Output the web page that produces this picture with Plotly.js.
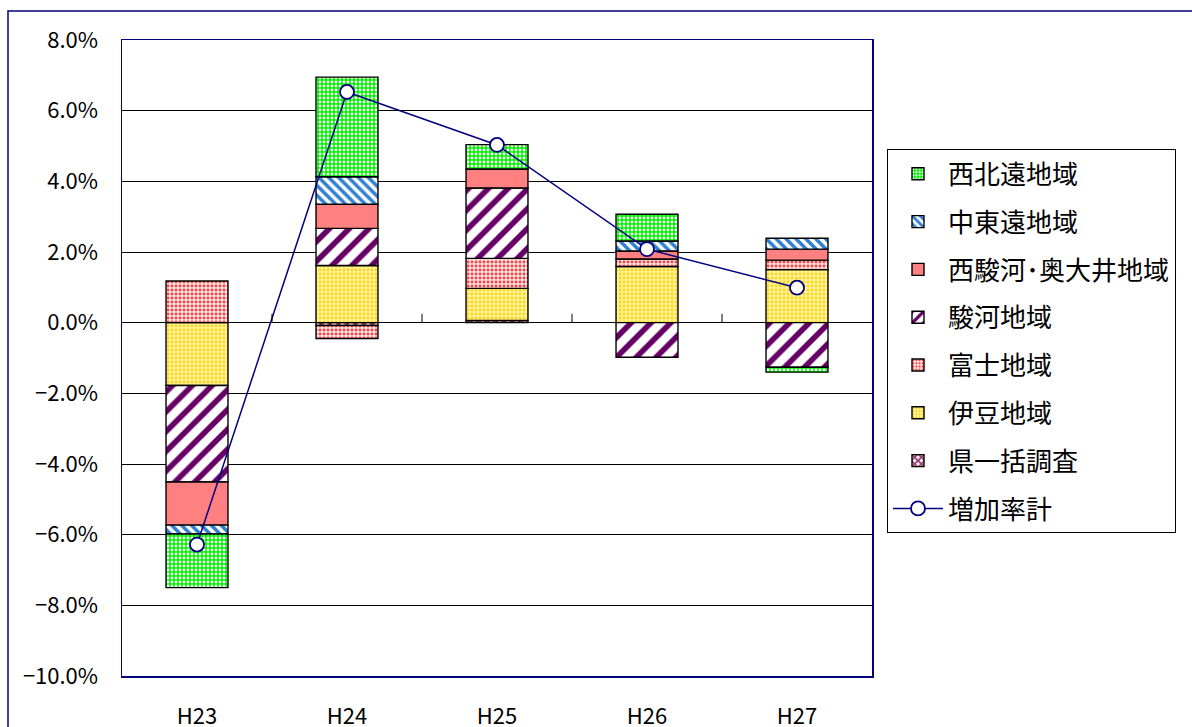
<!DOCTYPE html>
<html>
<head>
<meta charset="utf-8">
<script src="https://cdn.plot.ly/plotly-3.0.1.min.js"></script>
<style>html,body{margin:0;padding:0;background:#fff;}#chart{width:1192px;height:727px;}</style>
</head>
<body>
<div id="chart"></div>
<script>
const categories = ["H23", "H24", "H25", "H26", "H27"];
const kenIkkatsu = [0.00, -0.08, 0.06, 0.00, 0.00];
const izu = [-1.78, 1.62, 0.91, 1.59, 1.50];
const fuji = [1.18, -0.37, 0.85, 0.21, 0.27];
const suruga = [-2.73, 1.05, 1.99, -0.98, -1.26];
const nishiSuruga = [-1.22, 0.68, 0.54, 0.23, 0.31];
const chutoen = [-0.25, 0.78, 0.00, 0.28, 0.31];
const seihokuen = [-1.52, 2.82, 0.69, 0.76, -0.14];
const total = [-6.28, 6.53, 5.03, 2.08, 0.99];
const yTicks = [-10, -8, -6, -4, -2, 0, 2, 4, 6, 8];
const yTickText = yTicks.map(function (v) { return (v < 0 ? '\u2212' : '') + Math.abs(v).toFixed(1) + '%'; });

const jp = '"Noto Sans CJK JP", "Noto Sans", sans-serif';
const outline = {color: '#000000', width: 1.4};

function barTrace(name, y, color, pattern, rank) {
  const m = {color: color, line: outline};
  if (pattern) m.pattern = pattern;
  return {type: 'bar', name: name, x: categories, y: y, marker: m, legendgroup: name, legendrank: rank};
}

const traces = [
  {type: 'scatter', mode: 'lines+markers', name: '増加率計', x: categories, y: total,
   line: {color: '#000080', width: 1.5},
   marker: {symbol: 'circle', size: 14, color: '#ffffff', line: {color: '#000080', width: 1.8}},
   legendgroup: 'total', legendrank: 8},
  barTrace('県一括調査', kenIkkatsu, '#ffffff', {shape: 'x', fgcolor: '#993366', bgcolor: '#ffffff', size: 6, solidity: 0.6, fillmode: 'overlay', fgopacity: 1}, 7),
  barTrace('伊豆地域', izu, '#FFF080', {shape: '.', fgcolor: '#FFD21F', bgcolor: '#FFF59A', size: 4, solidity: 0.4, fillmode: 'overlay', fgopacity: 1}, 6),
  barTrace('富士地域', fuji, '#FFD0D0', {shape: '.', fgcolor: '#FF4040', bgcolor: '#FFE4E4', size: 4, solidity: 0.4, fillmode: 'overlay', fgopacity: 1}, 5),
  barTrace('駿河地域', suruga, '#ffffff', {shape: '/', fgcolor: '#660066', bgcolor: '#ffffff', size: 14, solidity: 0.4, fillmode: 'overlay', fgopacity: 1}, 4),
  barTrace('西駿河･奥大井地域', nishiSuruga, '#FF8080', null, 3),
  barTrace('中東遠地域', chutoen, '#ffffff', {shape: '\\', fgcolor: '#2F7FD0', bgcolor: '#ffffff', size: 7, solidity: 0.5, fillmode: 'overlay', fgopacity: 1}, 2),
  barTrace('西北遠地域', seihokuen, '#00FF00', {shape: '.', fgcolor: '#ffffff', bgcolor: '#00F000', size: 4, solidity: 0.4, fillmode: 'overlay', fgopacity: 1}, 1)
];

const tickShapes = [0.5, 1.5, 2.5, 3.5].map(function (xv) {
  return {type: 'line', xref: 'x', yref: 'y', x0: xv, x1: xv, y0: 0, y1: 0.25,
          line: {color: '#000000', width: 1}, layer: 'above'};
});

const layout = {
  width: 1192, height: 727,
  margin: {l: 122, r: 320, t: 40, b: 51, pad: 0},
  paper_bgcolor: '#ffffff', plot_bgcolor: '#ffffff',
  barmode: 'relative', bargap: 0.587,
  showlegend: true,
  legend: {
    x: 1.02, y: 0.828, xanchor: 'left', yanchor: 'top',
    traceorder: 'grouped', tracegroupgap: 11,
    font: {family: jp, size: 26, color: '#000000'},
    bordercolor: '#000000', borderwidth: 1, bgcolor: '#ffffff',
    itemwidth: 50
  },
  xaxis: {
    type: 'category', showgrid: false, zeroline: false,
    showline: true, mirror: true, linecolor: '#000080', linewidth: 1.5,
    ticks: '', tickfont: {family: jp, size: 22, color: '#000000'},
    ticklabelstandoff: 20
  },
  yaxis: {
    range: [-10, 8], tickmode: 'array', tickvals: yTicks, ticktext: yTickText,
    showgrid: true, gridcolor: '#000000', gridwidth: 1,
    zeroline: true, zerolinecolor: '#000000', zerolinewidth: 1,
    showline: true, mirror: true, linecolor: '#000080', linewidth: 1.5,
    ticks: '', tickfont: {family: jp, size: 22, color: '#000000'},
    ticklabelstandoff: 18
  },
  shapes: tickShapes.concat([
    {type: 'rect', xref: 'paper', yref: 'paper', x0: -0.152, x1: 1.6, y0: -0.3, y1: 1.0456,
     line: {color: '#000080', width: 1.5}, fillcolor: 'rgba(0,0,0,0)', layer: 'below'}
  ])
};

Plotly.newPlot('chart', traces, layout, {displayModeBar: false, staticPlot: true});
</script>
</body>
</html>
